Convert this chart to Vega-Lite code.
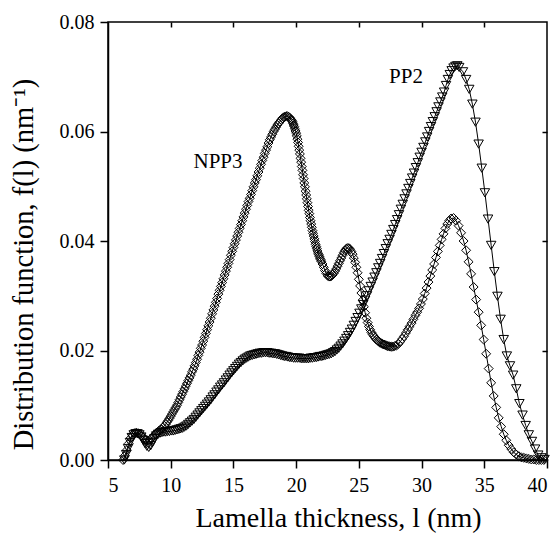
{
"$schema":"https://vega.github.io/schema/vega-lite/v6.json",
"autosize":"none",
"padding":{"left":108,"top":22,"right":12,"bottom":79},
"width":439,"height":438,
"config":{"view":{"stroke":"black","strokeWidth":1.5},
"font":"Liberation Serif",
"text":{"font":"Liberation Serif"},
"axis":{"labelFont":"Liberation Serif","titleFont":"Liberation Serif","labelFontSize":20,"titleFontSize":28,"titleFontWeight":"normal","labelColor":"black","titleColor":"black","domainColor":"black","tickColor":"black","grid":false,"domainWidth":1.5,"tickWidth":1.5,"tickSize":8,"labelPadding":6}},
"datasets":{
"npp3":[
{"l":6.2,"f":0},{"l":6.35,"f":0.0008},{"l":6.5,"f":0.0018},{"l":6.65,"f":0.003},{"l":6.8,"f":0.004},{"l":6.95,"f":0.0046},{"l":7.1,"f":0.0049},{"l":7.25,"f":0.005},{"l":7.4,"f":0.0049},{"l":7.55,"f":0.0047},{"l":7.7,"f":0.0044},{"l":7.85,"f":0.004},{"l":8.0,"f":0.0037},{"l":8.15,"f":0.0035},{"l":8.3,"f":0.0036},{"l":8.45,"f":0.0039},{"l":8.6,"f":0.0043},{"l":8.75,"f":0.0047},{"l":8.9,"f":0.005},{"l":9.05,"f":0.0053},{"l":9.2,"f":0.0056},{"l":9.35,"f":0.0059},
{"l":9.5,"f":0.0062},{"l":9.6,"f":0.0065},{"l":9.7,"f":0.0069},{"l":9.8,"f":0.0072},{"l":9.9,"f":0.0076},{"l":10.0,"f":0.008},{"l":10.1,"f":0.0084},{"l":10.2,"f":0.0088},{"l":10.3,"f":0.0092},{"l":10.4,"f":0.0096},{"l":10.5,"f":0.01},{"l":10.6,"f":0.0105},{"l":10.7,"f":0.011},{"l":10.8,"f":0.0115},{"l":10.9,"f":0.012},{"l":11.0,"f":0.0125},{"l":11.1,"f":0.013},{"l":11.2,"f":0.0135},{"l":11.3,"f":0.014},{"l":11.4,"f":0.0145},{"l":11.5,"f":0.015},{"l":11.6,"f":0.0155},{"l":11.7,"f":0.0161},{"l":11.8,"f":0.0166},{"l":11.9,"f":0.0172},{"l":12.0,"f":0.0178},{"l":12.1,"f":0.0184},{"l":12.2,"f":0.0191},{"l":12.3,"f":0.0197},{"l":12.4,"f":0.0204},{"l":12.5,"f":0.021},{"l":12.6,"f":0.0217},{"l":12.7,"f":0.0224},{"l":12.8,"f":0.0231},{"l":12.9,"f":0.0238},{"l":13.0,"f":0.0245},{"l":13.1,"f":0.0252},{"l":13.2,"f":0.0259},{"l":13.3,"f":0.0267},{"l":13.4,"f":0.0274},{"l":13.5,"f":0.0281},{"l":13.6,"f":0.0288},{"l":13.7,"f":0.0295},{"l":13.8,"f":0.0303},{"l":13.9,"f":0.031},{"l":14.0,"f":0.0317},{"l":14.1,"f":0.0324},{"l":14.2,"f":0.0331},{"l":14.3,"f":0.0338},{"l":14.4,"f":0.0345},{"l":14.5,"f":0.0352},{"l":14.6,"f":0.0359},{"l":14.7,"f":0.0366},{"l":14.8,"f":0.0374},{"l":14.9,"f":0.0381},{"l":15.0,"f":0.0388},{"l":15.1,"f":0.0395},{"l":15.2,"f":0.0402},{"l":15.3,"f":0.0409},{"l":15.4,"f":0.0416},{"l":15.5,"f":0.0423},{"l":15.6,"f":0.043},{"l":15.7,"f":0.0437},{"l":15.8,"f":0.0444},{"l":15.9,"f":0.0451},{"l":16.0,"f":0.0458},{"l":16.1,"f":0.0465},{"l":16.2,"f":0.0472},{"l":16.3,"f":0.0478},{"l":16.4,"f":0.0485},{"l":16.5,"f":0.0492},{"l":16.6,"f":0.0499},{"l":16.7,"f":0.0506},{"l":16.8,"f":0.0512},{"l":16.9,"f":0.0519},{"l":17.0,"f":0.0526},{"l":17.1,"f":0.0533},{"l":17.2,"f":0.054},{"l":17.3,"f":0.0547},{"l":17.4,"f":0.0553},{"l":17.5,"f":0.056},{"l":17.6,"f":0.0566},{"l":17.7,"f":0.0572},{"l":17.8,"f":0.0579},{"l":17.9,"f":0.0585},{"l":18.0,"f":0.059},{"l":18.1,"f":0.0595},{"l":18.2,"f":0.06},{"l":18.3,"f":0.0604},{"l":18.4,"f":0.0608},{"l":18.5,"f":0.0612},{"l":18.6,"f":0.0615},{"l":18.7,"f":0.0618},{"l":18.8,"f":0.0621},{"l":18.9,"f":0.0624},{"l":19.0,"f":0.0626},{"l":19.1,"f":0.0627},{"l":19.2,"f":0.0628},{"l":19.3,"f":0.0628},{"l":19.4,"f":0.0627},{"l":19.5,"f":0.0625},
{"l":19.6,"f":0.0622},{"l":19.65,"f":0.062},{"l":19.7,"f":0.0618},{"l":19.75,"f":0.0615},{"l":19.8,"f":0.0612},{"l":19.85,"f":0.0609},{"l":19.9,"f":0.0605},{"l":19.95,"f":0.0601},{"l":20.0,"f":0.0597},{"l":20.05,"f":0.0592},{"l":20.1,"f":0.0586},{"l":20.15,"f":0.058},{"l":20.2,"f":0.0573},{"l":20.25,"f":0.0566},{"l":20.3,"f":0.0559},{"l":20.35,"f":0.0551},{"l":20.4,"f":0.0544},{"l":20.45,"f":0.0536},{"l":20.5,"f":0.0529},{"l":20.55,"f":0.0521},{"l":20.6,"f":0.0514},{"l":20.65,"f":0.0506},{"l":20.7,"f":0.0499},{"l":20.75,"f":0.0491},{"l":20.8,"f":0.0484},{"l":20.85,"f":0.0477},{"l":20.9,"f":0.047},{"l":20.95,"f":0.0463},{"l":21.0,"f":0.0456},{"l":21.05,"f":0.045},{"l":21.1,"f":0.0443},{"l":21.15,"f":0.0437},{"l":21.2,"f":0.0431},{"l":21.25,"f":0.0425},{"l":21.3,"f":0.0419},{"l":21.35,"f":0.0414},{"l":21.4,"f":0.0409},{"l":21.45,"f":0.0404},{"l":21.5,"f":0.0399},{"l":21.55,"f":0.0394},{"l":21.6,"f":0.039},{"l":21.65,"f":0.0386},{"l":21.7,"f":0.0382},{"l":21.75,"f":0.0378},{"l":21.8,"f":0.0375},{"l":21.85,"f":0.0372},{"l":21.9,"f":0.0369},{"l":21.95,"f":0.0366},{"l":22.0,"f":0.0363},
{"l":22.1,"f":0.0358},{"l":22.2,"f":0.0352},{"l":22.3,"f":0.0346},{"l":22.4,"f":0.0341},{"l":22.5,"f":0.0337},{"l":22.6,"f":0.0335},{"l":22.7,"f":0.0335},{"l":22.8,"f":0.0336},{"l":22.9,"f":0.0338},{"l":23.0,"f":0.0341},{"l":23.1,"f":0.0345},{"l":23.2,"f":0.0349},{"l":23.3,"f":0.0354},{"l":23.4,"f":0.0359},{"l":23.5,"f":0.0364},{"l":23.6,"f":0.0369},{"l":23.7,"f":0.0374},{"l":23.8,"f":0.0379},{"l":23.9,"f":0.0383},{"l":24.0,"f":0.0386},{"l":24.1,"f":0.0387},{"l":24.2,"f":0.0387},{"l":24.3,"f":0.0385},{"l":24.4,"f":0.0381},{"l":24.5,"f":0.0376},{"l":24.6,"f":0.0369},{"l":24.7,"f":0.0361},{"l":24.8,"f":0.0352},{"l":24.9,"f":0.0342},{"l":25.0,"f":0.033},{"l":25.1,"f":0.0318},{"l":25.2,"f":0.0305},{"l":25.3,"f":0.0292},{"l":25.4,"f":0.028},{"l":25.5,"f":0.0269},{"l":25.6,"f":0.0259},{"l":25.7,"f":0.0251},{"l":25.8,"f":0.0244},{"l":25.9,"f":0.0238},{"l":26.0,"f":0.0233},{"l":26.1,"f":0.0229},{"l":26.2,"f":0.0226},{"l":26.3,"f":0.0223},{"l":26.4,"f":0.022},{"l":26.5,"f":0.0218},{"l":26.6,"f":0.0216},{"l":26.7,"f":0.0214},{"l":26.8,"f":0.0213},{"l":26.9,"f":0.0212},{"l":27.0,"f":0.0211},{"l":27.1,"f":0.021},{"l":27.2,"f":0.0209},{"l":27.3,"f":0.0208},{"l":27.4,"f":0.0208},{"l":27.5,"f":0.0207},{"l":27.6,"f":0.0207},{"l":27.7,"f":0.0207},
{"l":27.85,"f":0.0208},{"l":28.0,"f":0.0209},{"l":28.15,"f":0.0212},{"l":28.3,"f":0.0216},{"l":28.45,"f":0.0221},{"l":28.6,"f":0.0226},{"l":28.75,"f":0.0232},{"l":28.9,"f":0.0238},{"l":29.05,"f":0.0244},{"l":29.2,"f":0.025},{"l":29.35,"f":0.0257},{"l":29.5,"f":0.0264},{"l":29.65,"f":0.027},{"l":29.8,"f":0.0277},{"l":29.95,"f":0.0285},{"l":30.1,"f":0.0294},{"l":30.25,"f":0.0304},{"l":30.4,"f":0.0314},{"l":30.55,"f":0.0325},{"l":30.7,"f":0.0336},{"l":30.85,"f":0.0347},{"l":31.0,"f":0.0358},{"l":31.15,"f":0.037},{"l":31.3,"f":0.0381},{"l":31.45,"f":0.0392},{"l":31.6,"f":0.0403},{"l":31.75,"f":0.0413},{"l":31.9,"f":0.0423},{"l":32.05,"f":0.0431},{"l":32.2,"f":0.0437},{"l":32.35,"f":0.0441},
{"l":32.55,"f":0.0442},{"l":32.75,"f":0.0437},{"l":32.95,"f":0.0428},{"l":33.15,"f":0.0415},{"l":33.35,"f":0.04},{"l":33.55,"f":0.0383},{"l":33.75,"f":0.0362},{"l":33.95,"f":0.034},{"l":34.15,"f":0.0316},{"l":34.35,"f":0.0293},{"l":34.55,"f":0.027},{"l":34.75,"f":0.0246},{"l":34.95,"f":0.022},{"l":35.15,"f":0.0194},{"l":35.35,"f":0.0167},{"l":35.55,"f":0.0141},{"l":35.75,"f":0.0117},{"l":35.95,"f":0.0096},{"l":36.15,"f":0.0077},{"l":36.35,"f":0.0061},{"l":36.55,"f":0.0047},{"l":36.75,"f":0.0036},{"l":36.95,"f":0.0027},{"l":37.15,"f":0.002},{"l":37.35,"f":0.0014},{"l":37.55,"f":0.001},{"l":37.75,"f":0.0007},{"l":37.95,"f":0.0005},{"l":38.15,"f":0.0004},{"l":38.35,"f":0.0003},{"l":38.55,"f":0.0002},{"l":38.75,"f":0.0001},{"l":38.95,"f":0.0001},{"l":39.15,"f":0},{"l":39.35,"f":0},{"l":39.55,"f":0},{"l":39.75,"f":0}
],
"pp2":[
{"l":6.3,"f":0},{"l":6.45,"f":0.001},{"l":6.6,"f":0.0021},{"l":6.75,"f":0.0032},{"l":6.9,"f":0.0041},{"l":7.05,"f":0.0046},{"l":7.2,"f":0.0048},{"l":7.35,"f":0.0048},{"l":7.5,"f":0.0046},{"l":7.65,"f":0.0042},{"l":7.8,"f":0.0036},{"l":7.95,"f":0.003},{"l":8.1,"f":0.0025},{"l":8.25,"f":0.0023},{"l":8.4,"f":0.0026},{"l":8.55,"f":0.0032},{"l":8.7,"f":0.0039},{"l":8.85,"f":0.0044},{"l":9.0,"f":0.0047},{"l":9.15,"f":0.0049},{"l":9.3,"f":0.005},{"l":9.45,"f":0.0051},{"l":9.6,"f":0.0051},{"l":9.75,"f":0.0052},
{"l":9.9,"f":0.0052},{"l":10.05,"f":0.0053},{"l":10.2,"f":0.0053},{"l":10.35,"f":0.0054},{"l":10.5,"f":0.0055},{"l":10.65,"f":0.0056},{"l":10.8,"f":0.0057},{"l":10.95,"f":0.0058},{"l":11.1,"f":0.006},{"l":11.25,"f":0.0062},{"l":11.4,"f":0.0065},{"l":11.55,"f":0.0068},{"l":11.7,"f":0.0071},{"l":11.85,"f":0.0074},{"l":12.0,"f":0.0078},{"l":12.15,"f":0.0082},{"l":12.3,"f":0.0086},{"l":12.45,"f":0.009},{"l":12.6,"f":0.0094},{"l":12.75,"f":0.0098},{"l":12.9,"f":0.0102},{"l":13.05,"f":0.0106},{"l":13.2,"f":0.011},{"l":13.35,"f":0.0115},{"l":13.5,"f":0.0119},{"l":13.65,"f":0.0124},{"l":13.8,"f":0.0128},{"l":13.95,"f":0.0133},{"l":14.1,"f":0.0137},{"l":14.25,"f":0.0141},{"l":14.4,"f":0.0146},{"l":14.55,"f":0.015},{"l":14.7,"f":0.0155},{"l":14.85,"f":0.0159},{"l":15.0,"f":0.0163},{"l":15.15,"f":0.0167},{"l":15.3,"f":0.0171},{"l":15.45,"f":0.0175},{"l":15.6,"f":0.0178},{"l":15.75,"f":0.0181},{"l":15.9,"f":0.0184},{"l":16.05,"f":0.0186},{"l":16.2,"f":0.0188},{"l":16.35,"f":0.019},{"l":16.5,"f":0.0191},{"l":16.65,"f":0.0192},{"l":16.8,"f":0.0193},{"l":16.95,"f":0.0194},{"l":17.1,"f":0.0195},{"l":17.25,"f":0.0195},{"l":17.4,"f":0.0196},{"l":17.55,"f":0.0196},{"l":17.7,"f":0.0196},{"l":17.85,"f":0.0195},{"l":18.0,"f":0.0195},{"l":18.15,"f":0.0194},{"l":18.3,"f":0.0194},{"l":18.45,"f":0.0193},{"l":18.6,"f":0.0192},{"l":18.75,"f":0.0191},{"l":18.9,"f":0.019},{"l":19.05,"f":0.0189},{"l":19.2,"f":0.0189},{"l":19.35,"f":0.0188},{"l":19.5,"f":0.0187},{"l":19.65,"f":0.0187},{"l":19.8,"f":0.0186},{"l":19.95,"f":0.0186},{"l":20.1,"f":0.0186},{"l":20.25,"f":0.0186},{"l":20.4,"f":0.0185},{"l":20.55,"f":0.0185},{"l":20.7,"f":0.0185},{"l":20.85,"f":0.0185},{"l":21.0,"f":0.0185},{"l":21.15,"f":0.0186},{"l":21.3,"f":0.0186},{"l":21.45,"f":0.0187},{"l":21.6,"f":0.0187},{"l":21.75,"f":0.0188},{"l":21.9,"f":0.0189},{"l":22.05,"f":0.0189},{"l":22.2,"f":0.019},{"l":22.35,"f":0.0191},{"l":22.5,"f":0.0192},{"l":22.65,"f":0.0193},{"l":22.8,"f":0.0194},{"l":22.95,"f":0.0196},{"l":23.1,"f":0.0198},{"l":23.25,"f":0.0201},{"l":23.4,"f":0.0204},{"l":23.55,"f":0.0208},{"l":23.7,"f":0.0212},{"l":23.85,"f":0.0217},{"l":24.0,"f":0.0222},{"l":24.15,"f":0.0227},{"l":24.3,"f":0.0233},{"l":24.45,"f":0.0239},{"l":24.6,"f":0.0246},{"l":24.75,"f":0.0253},{"l":24.9,"f":0.026},{"l":25.05,"f":0.0268},{"l":25.2,"f":0.0276},{"l":25.35,"f":0.0284},{"l":25.5,"f":0.0292},{"l":25.65,"f":0.03},{"l":25.8,"f":0.0309},{"l":25.95,"f":0.0317},{"l":26.1,"f":0.0325},{"l":26.25,"f":0.0334},{"l":26.4,"f":0.0342},{"l":26.55,"f":0.0351},{"l":26.7,"f":0.0359},{"l":26.85,"f":0.0368},{"l":27.0,"f":0.0377},{"l":27.15,"f":0.0386},{"l":27.3,"f":0.0395},{"l":27.45,"f":0.0403},{"l":27.6,"f":0.0412},{"l":27.75,"f":0.0421},{"l":27.9,"f":0.043},
{"l":28.05,"f":0.0439},{"l":28.2,"f":0.0448},{"l":28.35,"f":0.0458},{"l":28.5,"f":0.0467},{"l":28.65,"f":0.0477},{"l":28.8,"f":0.0486},{"l":28.95,"f":0.0496},{"l":29.1,"f":0.0505},{"l":29.25,"f":0.0515},{"l":29.4,"f":0.0524},{"l":29.55,"f":0.0534},{"l":29.7,"f":0.0543},{"l":29.85,"f":0.0553},{"l":30.0,"f":0.0562},{"l":30.15,"f":0.0571},{"l":30.3,"f":0.0581},{"l":30.45,"f":0.059},{"l":30.6,"f":0.06},{"l":30.75,"f":0.0609},{"l":30.9,"f":0.0618},{"l":31.05,"f":0.0627},{"l":31.2,"f":0.0636},{"l":31.35,"f":0.0645},{"l":31.5,"f":0.0654},{"l":31.65,"f":0.0663},{"l":31.8,"f":0.0672},{"l":31.95,"f":0.0684},{"l":32.1,"f":0.0695},{"l":32.25,"f":0.0704},{"l":32.4,"f":0.0711},{"l":32.55,"f":0.0716},{"l":32.7,"f":0.0719},{"l":32.85,"f":0.072},
{"l":33.0,"f":0.0717},{"l":33.3,"f":0.0709},{"l":33.55,"f":0.0695},{"l":33.8,"f":0.0677},{"l":34.05,"f":0.065},{"l":34.3,"f":0.0617},{"l":34.55,"f":0.0577},{"l":34.8,"f":0.0533},{"l":35.05,"f":0.0488},{"l":35.3,"f":0.044},{"l":35.55,"f":0.0392},{"l":35.8,"f":0.0344},{"l":36.05,"f":0.0299},{"l":36.3,"f":0.0257},{"l":36.55,"f":0.022},{"l":36.8,"f":0.019},{"l":37.05,"f":0.0172},{"l":37.3,"f":0.0155},{"l":37.55,"f":0.013},{"l":37.8,"f":0.0103},{"l":38.05,"f":0.0082},{"l":38.3,"f":0.0063},{"l":38.55,"f":0.0046},{"l":38.8,"f":0.0034},{"l":39.05,"f":0.002},{"l":39.3,"f":0.0009},{"l":39.55,"f":0.0004},{"l":39.8,"f":0.0001}
],
"labels":[{"l":13.77,"f":0.0544,"t":"NPP3"},{"l":28.76,"f":0.07,"t":"PP2"}]
},
"resolve":{"axis":{"x":"independent","y":"independent"}},
"layer":[
{"data":{"name":"npp3"},"mark":{"type":"line","color":"black","strokeWidth":1},
"encoding":{"x":{"field":"l","type":"quantitative","scale":{"domain":[5,40],"nice":false,"zero":false},"axis":{"values":[5,10,15,20,25,30,35,40],"title":"Lamella thickness, l (nm)","titlePadding":9,"titleX":230,"labelPadding":7,"labelFont":"Liberation Serif"}},
"y":{"field":"f","type":"quantitative","scale":{"domain":[0,0.08],"nice":false},"axis":{"values":[0,0.02,0.04,0.06,0.08],"format":".2f","title":"Distribution function, f(l) (nm⁻¹)","titlePadding":21,"titleY":242,"titleFontSize":28.5,"labelFont":"Liberation Serif"}}}},
{"data":{"name":"npp3"},"mark":{"type":"point","shape":"diamond","filled":false,"color":"black","strokeWidth":1,"size":80,"opacity":1},
"encoding":{"x":{"field":"l","type":"quantitative","axis":null},"y":{"field":"f","type":"quantitative","axis":null}}},
{"data":{"name":"pp2"},"mark":{"type":"line","color":"black","strokeWidth":1},
"encoding":{"x":{"field":"l","type":"quantitative","axis":null},"y":{"field":"f","type":"quantitative","axis":null}}},
{"data":{"name":"pp2"},"mark":{"type":"point","shape":"triangle-down","filled":false,"color":"black","strokeWidth":1,"size":90,"opacity":1},
"encoding":{"x":{"field":"l","type":"quantitative","axis":null},"y":{"field":"f","type":"quantitative","axis":null}}},
{"data":{"name":"labels"},"mark":{"type":"text","font":"Liberation Serif","fontSize":21,"align":"center","baseline":"middle","color":"black"},
"encoding":{"x":{"field":"l","type":"quantitative","axis":{"orient":"top","values":[10,15,20,25,30,35],"labels":false,"domain":false,"tickSize":-5,"title":null}},
"y":{"field":"f","type":"quantitative","axis":{"orient":"right","values":[0.02,0.04,0.06],"labels":false,"domain":false,"tickSize":-5,"title":null}},
"text":{"field":"t"}}}
]
}
